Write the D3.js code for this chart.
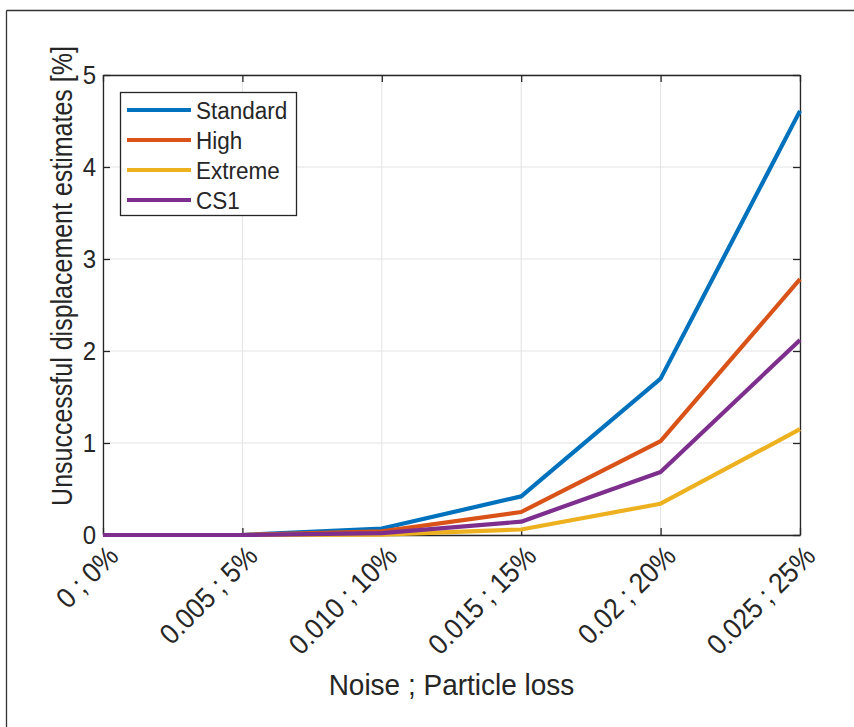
<!DOCTYPE html>
<html><head><meta charset="utf-8">
<script src="https://cdn.jsdelivr.net/npm/d3@7"></script>
<style>
html,body{margin:0;padding:0;background:#fff;}
svg text{font-family:"Liberation Sans",Arial,Helvetica,sans-serif;fill:#262626;}
</style></head>
<body>
<svg id="chart" width="854" height="727"></svg>
<script>
const categories = ["0 ; 0%","0.005 ; 5%","0.010 ; 10%","0.015 ; 15%","0.02 ; 20%","0.025 ; 25%"];
const seriesNames = ["Standard","High","Extreme","CS1"];
const standardVals = [0, 0, 0.07, 0.42, 1.70, 4.61];
const highVals     = [0, 0, 0.04, 0.25, 1.02, 2.78];
const extremeVals  = [0, 0, 0.005, 0.06, 0.34, 1.15];
const cs1Vals      = [0, 0, 0.02, 0.145, 0.685, 2.12];
const yTicks = [0,1,2,3,4,5];
const colors = ["#0072BD","#D95319","#EDB120","#7E2F8E"];
const series = [standardVals, highVals, extremeVals, cs1Vals];

const svg = d3.select("#chart");
const L=103, R=800, T=75, B=535;
const x = d3.scalePoint().domain(categories).range([L,R]);
const y = d3.scaleLinear().domain([0,5]).range([B,T]);

// outer frame (top & left visible)
svg.append("line").attr("x1",6.5).attr("x2",854).attr("y1",10.5).attr("y2",10.5).attr("stroke","#333").attr("stroke-width",1.3);
svg.append("line").attr("x1",6.5).attr("x2",6.5).attr("y1",10.5).attr("y2",727).attr("stroke","#333").attr("stroke-width",1.3);

// grid
const g = svg.append("g");
g.selectAll(".gx").data(categories).enter().append("line")
  .attr("x1",d=>x(d)).attr("x2",d=>x(d)).attr("y1",T).attr("y2",B)
  .attr("stroke","#e3e3e3").attr("stroke-width",1);
g.selectAll(".gy").data(yTicks).enter().append("line")
  .attr("x1",L).attr("x2",R).attr("y1",d=>y(d)).attr("y2",d=>y(d))
  .attr("stroke","#e3e3e3").attr("stroke-width",1);

// axes with inward ticks
const tl = 7;
const axB = svg.append("g").attr("transform",`translate(0,${B})`)
  .call(d3.axisBottom(x).tickSizeInner(-tl).tickSizeOuter(0).tickFormat(""));
const axT = svg.append("g").attr("transform",`translate(0,${T})`)
  .call(d3.axisTop(x).tickSizeInner(-tl).tickSizeOuter(0).tickFormat(""));
const axL = svg.append("g").attr("transform",`translate(${L},0)`)
  .call(d3.axisLeft(y).tickValues(yTicks).tickSizeInner(-tl).tickSizeOuter(0).tickFormat(""));
const axR = svg.append("g").attr("transform",`translate(${R},0)`)
  .call(d3.axisRight(y).tickValues(yTicks).tickSizeInner(-tl).tickSizeOuter(0).tickFormat(""));
[axB,axT,axL,axR].forEach(a=>{
  a.selectAll("path").attr("stroke","#262626").attr("stroke-width",1.3);
  a.selectAll("line").attr("stroke","#262626").attr("stroke-width",1.3);
});

// y tick labels
svg.selectAll(".ytl").data(yTicks).enter().append("text")
  .attr("transform",d=>`translate(${L-7},${y(d)}) scale(1,1.08)`).attr("dy","0.36em")
  .attr("text-anchor","end").attr("font-size",24).text(d=>d);

// x tick labels rotated
svg.selectAll(".xtl").data(categories).enter().append("text")
  .attr("transform",d=>`translate(${x(d)+17},${B+23}) rotate(-45) scale(1,1.1)`)
  .attr("text-anchor","end").attr("font-size",26).text(d=>d);

// lines
const line = d3.line().x((d,i)=>x(categories[i])).y(d=>y(d));
series.forEach((s,k)=>{
  svg.append("path").datum(s).attr("d",line).attr("fill","none")
    .attr("stroke",colors[k]).attr("stroke-width",4.2).attr("stroke-linejoin","round");
});

// labels
svg.append("text").attr("transform",`translate(${(L+R)/2},695) scale(1,1.08)`).attr("text-anchor","middle")
  .attr("font-size",28).text("Noise ; Particle loss");
svg.append("text").attr("transform",`translate(72,276) rotate(-90) scale(1,1.2)`).attr("text-anchor","middle")
  .attr("font-size",25).text("Unsuccessful displacement estimates [%]");

// legend
const lg = svg.append("g");
lg.append("rect").attr("x",120.5).attr("y",92.5).attr("width",176).attr("height",123)
  .attr("fill","#fff").attr("stroke","#262626").attr("stroke-width",1.3);
seriesNames.forEach((n,k)=>{
  const yy = 110 + k*30;
  lg.append("line").attr("x1",127).attr("x2",191).attr("y1",yy).attr("y2",yy)
    .attr("stroke",colors[k]).attr("stroke-width",4.2);
  lg.append("text").attr("transform",`translate(196,${yy}) scale(1,1.1)`).attr("dy","0.36em").attr("font-size",22.5).text(n);
});
</script>
</body></html>
